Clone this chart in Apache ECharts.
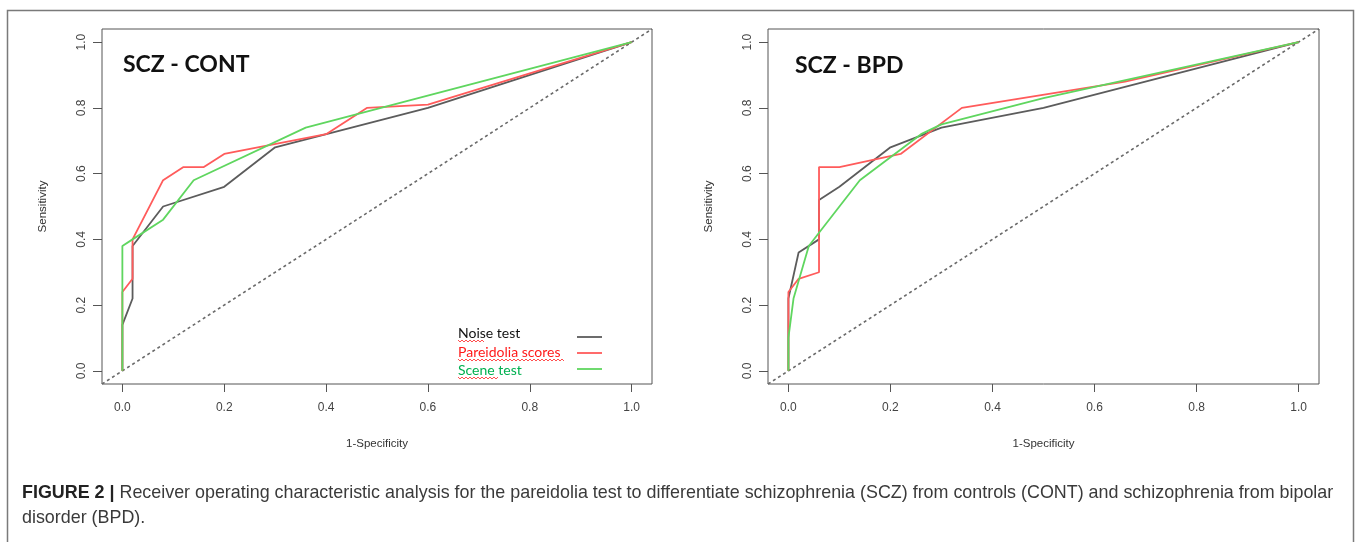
<!DOCTYPE html>
<html>
<head>
<meta charset="utf-8">
<script src="https://cdn.jsdelivr.net/npm/echarts@6/dist/echarts.min.js"></script>
<style>
  html, body { margin: 0; padding: 0; background: #fff; }
  #chart { width: 1357px; height: 542px; }
</style>
</head>
<body>
<div id="chart"></div>
<script>
// ---- Data ----
const TICKS = [0, 0.2, 0.4, 0.6, 0.8, 1.0];
const AXIS_MIN = -0.04;
const AXIS_MAX = 1.04;
const DIAGONAL = [[-0.04, -0.04], [1.04, 1.04]];

const PANEL_TITLES = ['SCZ - CONT', 'SCZ - BPD'];
const SERIES_NAMES = ['Noise test', 'Pareidolia scores', 'Scene test'];
const X_TITLE = '1-Specificity';
const Y_TITLE = 'Sensitivity';

// SCZ - CONT  [1-specificity, sensitivity]
const CONT_NOISE = [[0,0],[0,0.14],[0.02,0.22],[0.02,0.38],[0.08,0.50],[0.20,0.56],[0.30,0.68],[0.60,0.80],[1,1]];
const CONT_PAREIDOLIA = [[0,0],[0,0.24],[0.02,0.28],[0.02,0.40],[0.08,0.58],[0.12,0.62],[0.16,0.62],[0.20,0.66],[0.40,0.72],[0.48,0.80],[0.60,0.81],[1,1]];
const CONT_SCENE = [[0,0],[0,0.38],[0.02,0.40],[0.08,0.46],[0.14,0.58],[0.36,0.74],[1,1]];

// SCZ - BPD
const BPD_NOISE = [[0,0],[0,0.22],[0.02,0.36],[0.06,0.40],[0.06,0.52],[0.10,0.56],[0.20,0.68],[0.30,0.74],[0.50,0.80],[1,1]];
const BPD_PAREIDOLIA = [[0,0],[0,0.24],[0.02,0.28],[0.06,0.30],[0.06,0.62],[0.10,0.62],[0.22,0.66],[0.34,0.80],[0.66,0.88],[1,1]];
const BPD_SCENE = [[0,0],[0,0.10],[0.01,0.22],[0.04,0.38],[0.06,0.42],[0.14,0.58],[0.26,0.72],[0.30,0.75],[0.50,0.83],[1,1]];

const CAPTION_BOLD = 'FIGURE 2 |';
const CAPTION_LINE1 = ' Receiver operating characteristic analysis for the pareidolia test to differentiate schizophrenia (SCZ) from controls (CONT) and schizophrenia from bipolar';
const CAPTION_LINE2 = 'disorder (BPD).';

// ---- Styles ----
const COLORS = ['#5c5c5c', '#ff5b5b', '#5fd65f'];
const LEGEND_TEXT_COLORS = ['#111111', '#ff1a1a', '#00b050'];
const BOX = '#555';
const LABEL_FONT = '"Liberation Sans", Arial, sans-serif';
const CAPTION_SIZE = 17.9;

const chart = echarts.init(document.getElementById('chart'), null, { renderer: 'canvas' });

const grids = [
  { left: 102, top: 29, width: 550, height: 355 },
  { left: 768, top: 29, width: 551, height: 355 }
];

function xAxis(i) {
  return {
    type: 'value', gridIndex: i, min: AXIS_MIN, max: AXIS_MAX,
    name: X_TITLE, nameLocation: 'middle', nameGap: 54,
    nameTextStyle: { fontFamily: LABEL_FONT, fontSize: 11.5, color: '#333' },
    axisLine: { show: false, onZero: false },
    axisTick: { show: true, inside: false, length: 8, customValues: TICKS, lineStyle: { color: BOX, width: 1 } },
    axisLabel: { customValues: TICKS, formatter: v => v.toFixed(1), margin: 18,
      fontFamily: LABEL_FONT, fontSize: 12, color: '#444' },
    splitLine: { show: false }
  };
}
function yAxis(i) {
  return {
    type: 'value', gridIndex: i, min: AXIS_MIN, max: AXIS_MAX,
    name: Y_TITLE, nameLocation: 'middle', nameGap: 53, nameRotate: 90,
    nameTextStyle: { fontFamily: LABEL_FONT, fontSize: 11.5, color: '#333' },
    axisLine: { show: false, onZero: false },
    axisTick: { show: true, inside: false, length: 9, customValues: TICKS, lineStyle: { color: BOX, width: 1 } },
    axisLabel: { customValues: TICKS, formatter: v => v.toFixed(1), margin: 14, rotate: 90,
      fontFamily: LABEL_FONT, fontSize: 12, color: '#444' },
    splitLine: { show: false }
  };
}

function lineSeries(name, data, idx, color, width, type) {
  return {
    name, type: 'line', data, xAxisIndex: idx, yAxisIndex: idx,
    symbol: 'none', smooth: false, clip: true, silent: true,
    lineStyle: { color, width, type: type || 'solid' },
    z: 2
  };
}

const panels = [
  [CONT_NOISE, CONT_PAREIDOLIA, CONT_SCENE],
  [BPD_NOISE, BPD_PAREIDOLIA, BPD_SCENE]
];

const series = [];
panels.forEach((sets, p) => {
  series.push(lineSeries('diag' + p, DIAGONAL, p, '#6a6a6a', 1.6, [3, 3]));
  sets.forEach((d, k) => series.push(lineSeries(SERIES_NAMES[k], d, p, COLORS[k], 1.8)));
});

const graphic = [];
// outer figure frame
graphic.push({ type: 'rect', shape: { x: 7.5, y: 10.5, width: 1346, height: 600 },
  style: { fill: 'none', stroke: '#7a7a7a', lineWidth: 1.5 }, silent: true, z: 0 });

// panel titles
graphic.push({ type: 'text', x: 123, y: 65, style: { text: PANEL_TITLES[0], fontFamily: 'Lato, "Open Sans", sans-serif',
  fontWeight: 'bold', fontSize: 23, fill: '#111', textVerticalAlign: 'middle' }, z: 10 });
graphic.push({ type: 'text', x: 795, y: 66, style: { text: PANEL_TITLES[1], fontFamily: 'Lato, "Open Sans", sans-serif',
  fontWeight: 'bold', fontSize: 23, fill: '#111', textVerticalAlign: 'middle' }, z: 10 });

// legend (panel 1)
const legendY = [333, 352, 370];
const lineY = [337, 353, 369];
SERIES_NAMES.forEach((n, k) => {
  graphic.push({ type: 'text', x: 458, y: legendY[k], style: { text: n, fontFamily: 'Lato, sans-serif', fontSize: 14,
    fill: LEGEND_TEXT_COLORS[k], textVerticalAlign: 'middle' }, z: 10 });
  graphic.push({ type: 'line', shape: { x1: 577, y1: lineY[k], x2: 602, y2: lineY[k] },
    style: { stroke: COLORS[k], lineWidth: 1.8 }, z: 10 });
});
// spell-check squiggles
function squiggle(x1, x2, y) {
  const pts = [];
  let up = true;
  for (let x = x1; x <= x2; x += 2) { pts.push([x, y + (up ? -1 : 1)]); up = !up; }
  return { type: 'polyline', shape: { points: pts }, style: { stroke: '#ff3b3b', lineWidth: 0.9, fill: 'none' }, z: 10 };
}
graphic.push(squiggle(458, 484, 341));
graphic.push(squiggle(458, 564, 360));
graphic.push(squiggle(458, 499, 378));

// caption
graphic.push({ type: 'text', x: 22, y: 493, style: {
  text: '{b|' + CAPTION_BOLD + '}' + CAPTION_LINE1,
  fontFamily: LABEL_FONT, fontSize: CAPTION_SIZE, fill: '#3a3a3a', textVerticalAlign: 'middle',
  rich: { b: { fontFamily: LABEL_FONT, fontSize: CAPTION_SIZE, fontWeight: 'bold', fill: '#222' } }
}, z: 10 });
graphic.push({ type: 'text', x: 22, y: 518, style: {
  text: CAPTION_LINE2, fontFamily: LABEL_FONT, fontSize: CAPTION_SIZE, fill: '#3a3a3a', textVerticalAlign: 'middle'
}, z: 10 });

chart.setOption({
  animation: false,
  backgroundColor: '#fff',
  grid: grids.map(g => Object.assign({ show: true, borderColor: BOX, borderWidth: 1, backgroundColor: 'transparent', containLabel: false }, g)),
  xAxis: [xAxis(0), xAxis(1)],
  yAxis: [yAxis(0), yAxis(1)],
  series,
  graphic
});
</script>
</body>
</html>
